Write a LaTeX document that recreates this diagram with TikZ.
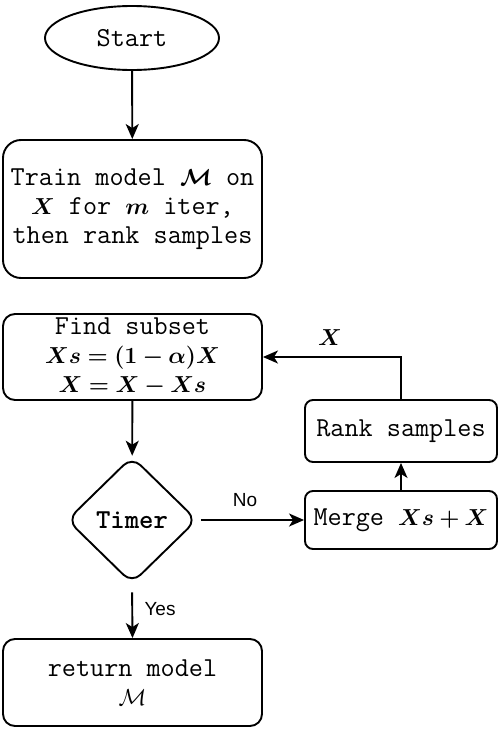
\documentclass[tikz,border=0pt]{standalone}
\usepackage{amsmath,bm,graphicx}
\usepackage{fontspec}
\newfontfamily\arialfont{Liberation Sans}
\usetikzlibrary{shapes.geometric,arrows.meta}
\newcommand{\mth}[1]{\scalebox{0.93}{\fontsize{24}{29}\selectfont$\bm{#1}$}}
\newcommand{\mthn}[1]{\scalebox{0.93}{\fontsize{24}{29}\selectfont$#1$}}
\tikzset{
  base/.style={draw=black, line width=1.9pt, inner sep=0pt, align=center,
    font=\fontsize{27.4}{29}\selectfont\ttfamily},
  boxnode/.style={base, rectangle, rounded corners=#1},
  conn/.style={line width=1.9pt, -{Stealth[length=15pt,width=13pt,inset=4pt]}},
  lab/.style={font=\fontsize{19}{21}\selectfont\arialfont, inner sep=0pt},
}
\begin{document}
\begin{tikzpicture}[x=1pt,y=-1pt]
\useasboundingbox (0,0) rectangle (499,731);
\node[base, ellipse, minimum width=174pt, minimum height=64pt] (start) at (132,38) {Start};
\node[boxnode=18pt, minimum width=259pt, minimum height=138pt] (train) at (132.5,209)
  {Train model \mth{\mathcal{M}} on\\\mth{X} for \mth{m} iter,\\then rank samples};
\node[boxnode=12pt, minimum width=259pt, minimum height=86pt] (find) at (132.5,357)
  {Find subset\\\mth{Xs=(1-\alpha)X}\\\mth{X=X-Xs}};
\node[base, diamond, rounded corners=12pt, minimum width=130pt, minimum height=127pt] (timer) at (132,520)
  {\bfseries Timer};
\node[boxnode=8pt, minimum width=192pt, minimum height=58pt] (merge) at (401,520)
  {Merge \mth{Xs+X}};
\node[boxnode=8pt, minimum width=192pt, minimum height=62pt] (rank) at (401,431)
  {Rank samples};
\node[boxnode=12pt, minimum width=259pt, minimum height=87pt] (ret) at (132.5,682.5)
  {return model\\\mthn{\mathcal{M}}};
\node[inner sep=0pt] (xl) at (330,338) {\mth{X}};
\node[lab] (nol) at (245,500) {No};
\node[lab] (yesl) at (160,609) {Yes};
\draw[conn] (start) -- (train);
\draw[conn] (find) -- (timer);
\draw[conn, shorten <=3pt] (timer.east) -- (merge.west);
\draw[conn] (merge) -- (rank);
\draw[conn] (rank.north) |- (find.east);
\draw[conn, shorten <=8pt] (timer.south) -- (ret.north);
\end{tikzpicture}
\end{document}
